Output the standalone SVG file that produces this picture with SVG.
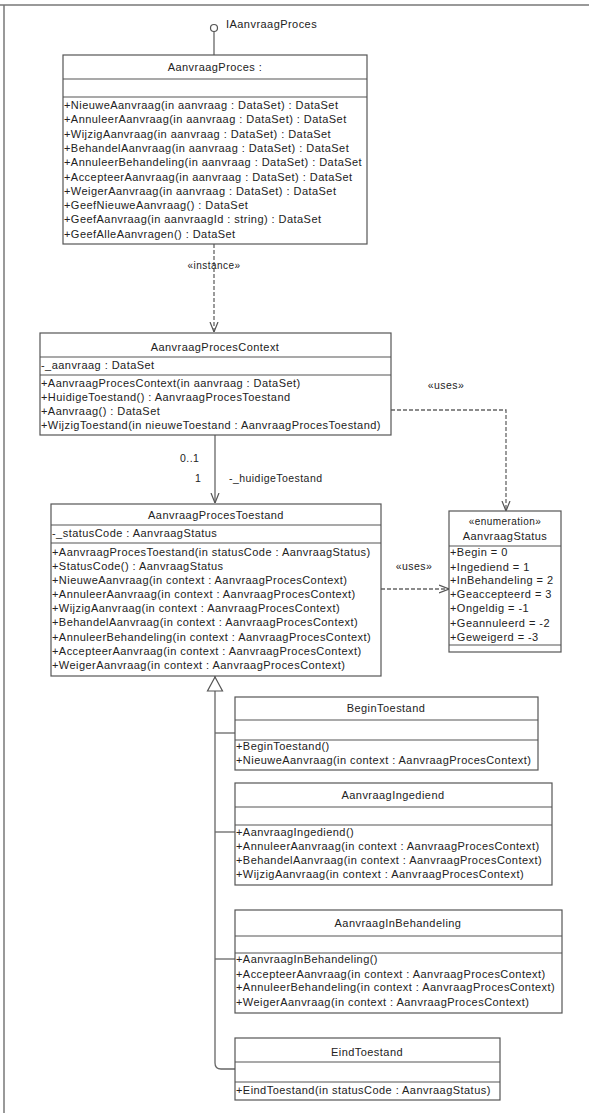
<svg xmlns="http://www.w3.org/2000/svg" width="589" height="1113" viewBox="0 0 589 1113">
<style>
.box{fill:#fff;stroke:#555;stroke-width:1.2}
.sep{stroke:#555;stroke-width:1.2}
.t{font-family:"Liberation Sans",Arial,sans-serif;font-size:11px;fill:#222;letter-spacing:0.45px}
.c{text-anchor:middle}
.ln{fill:none;stroke:#666;stroke-width:1.3}
.dash{fill:none;stroke:#666;stroke-width:1.3;stroke-dasharray:4,2}
.frame{stroke:#777;stroke-width:1.5}
</style>
<defs>
<marker id="open" viewBox="0 0 10 10" refX="10" refY="5" markerWidth="10" markerHeight="10" markerUnits="userSpaceOnUse" orient="auto">
<path d="M0,1 L10,5 L0,9" fill="none" stroke="#555" stroke-width="1.2"/>
</marker>
</defs>
<line class="frame" x1="0" y1="5" x2="589" y2="5"/>
<line class="frame" x1="4" y1="5" x2="4" y2="1113"/>

<g id="connectors">
<line class="ln" x1="214" y1="31" x2="214" y2="55"/>
<circle cx="214" cy="28" r="3.5" fill="#fff" stroke="#555" stroke-width="1.2"/>
<text class="t" x="226" y="28">IAanvraagProces</text>
<line class="dash" x1="214" y1="244" x2="214" y2="332" marker-end="url(#open)"/>
<text class="t c" x="214" y="269" style="font-size:10px">«instance»</text>
<polyline class="dash" points="391,410 506,410 506,511" marker-end="url(#open)"/>
<text class="t c" x="446" y="389" style="font-size:10.5px">«uses»</text>
<line class="ln" x1="215" y1="435" x2="215" y2="503" marker-end="url(#open)"/>
<text class="t" x="180" y="462" style="font-size:10.5px">0..1</text>
<text class="t" x="195" y="482" style="font-size:10.5px">1</text>
<text class="t" x="229" y="482" style="font-size:10.5px">-_huidigeToestand</text>
<line class="dash" x1="381" y1="589" x2="449" y2="589" marker-end="url(#open)"/>
<text class="t c" x="414" y="570" style="font-size:10.5px">«uses»</text>
<path class="ln" d="M215,676 L215,1063 Q215,1069 221,1069 L235,1069" />
<path d="M215,677 L222.5,691 L207.5,691 Z" fill="#fff" stroke="#555" stroke-width="1.2"/>
<line class="ln" x1="215" y1="733" x2="235" y2="733"/>
<line class="ln" x1="215" y1="832" x2="235" y2="832"/>
<line class="ln" x1="215" y1="959" x2="235" y2="959"/>
</g>

<g id="AanvraagProces">
<rect class="box" x="63" y="55" width="304" height="189"/>
<line class="sep" x1="63" y1="79" x2="367" y2="79"/>
<line class="sep" x1="63" y1="97" x2="367" y2="97"/>
<text class="t c" x="215" y="71">AanvraagProces :</text>
<text class="t" x="64" y="109">+NieuweAanvraag(in aanvraag : DataSet) : DataSet</text>
<text class="t" x="64" y="123">+AnnuleerAanvraag(in aanvraag : DataSet) : DataSet</text>
<text class="t" x="64" y="138">+WijzigAanvraag(in aanvraag : DataSet) : DataSet</text>
<text class="t" x="64" y="152">+BehandelAanvraag(in aanvraag : DataSet) : DataSet</text>
<text class="t" x="64" y="166">+AnnuleerBehandeling(in aanvraag : DataSet) : DataSet</text>
<text class="t" x="64" y="181">+AccepteerAanvraag(in aanvraag : DataSet) : DataSet</text>
<text class="t" x="64" y="195">+WeigerAanvraag(in aanvraag : DataSet) : DataSet</text>
<text class="t" x="64" y="209">+GeefNieuweAanvraag() : DataSet</text>
<text class="t" x="64" y="223">+GeefAanvraag(in aanvraagId : string) : DataSet</text>
<text class="t" x="64" y="238">+GeefAlleAanvragen() : DataSet</text>
</g>

<g id="AanvraagProcesContext">
<rect class="box" x="40" y="333" width="351" height="102"/>
<line class="sep" x1="40" y1="357" x2="391" y2="357"/>
<line class="sep" x1="40" y1="375" x2="391" y2="375"/>
<text class="t c" x="215" y="351">AanvraagProcesContext</text>
<text class="t" x="41" y="369">-_aanvraag : DataSet</text>
<text class="t" x="41" y="387">+AanvraagProcesContext(in aanvraag : DataSet)</text>
<text class="t" x="41" y="401">+HuidigeToestand() : AanvraagProcesToestand</text>
<text class="t" x="41" y="415">+Aanvraag() : DataSet</text>
<text class="t" x="41" y="429">+WijzigToestand(in nieuweToestand : AanvraagProcesToestand)</text>
</g>

<g id="AanvraagStatus">
<rect class="box" x="449" y="511" width="112" height="141"/>
<line class="sep" x1="449" y1="546" x2="561" y2="546"/>
<line class="sep" x1="449" y1="645" x2="561" y2="645"/>
<text class="t c" x="505" y="525" style="font-size:10px">«enumeration»</text>
<text class="t c" x="505" y="540">AanvraagStatus</text>
<text class="t" x="450" y="556">+Begin = 0</text>
<text class="t" x="450" y="571">+Ingediend = 1</text>
<text class="t" x="450" y="584">+InBehandeling = 2</text>
<text class="t" x="450" y="598">+Geaccepteerd = 3</text>
<text class="t" x="450" y="612">+Ongeldig = -1</text>
<text class="t" x="450" y="627">+Geannuleerd = -2</text>
<text class="t" x="450" y="641">+Geweigerd = -3</text>
</g>

<g id="AanvraagProcesToestand">
<rect class="box" x="51" y="504" width="330" height="172"/>
<line class="sep" x1="51" y1="525" x2="381" y2="525"/>
<line class="sep" x1="51" y1="543" x2="381" y2="543"/>
<text class="t c" x="216" y="519">AanvraagProcesToestand</text>
<text class="t" x="52" y="537">-_statusCode : AanvraagStatus</text>
<text class="t" x="52" y="556">+AanvraagProcesToestand(in statusCode : AanvraagStatus)</text>
<text class="t" x="52" y="570">+StatusCode() : AanvraagStatus</text>
<text class="t" x="52" y="584">+NieuweAanvraag(in context : AanvraagProcesContext)</text>
<text class="t" x="52" y="598">+AnnuleerAanvraag(in context : AanvraagProcesContext)</text>
<text class="t" x="52" y="612">+WijzigAanvraag(in context : AanvraagProcesContext)</text>
<text class="t" x="52" y="626">+BehandelAanvraag(in context : AanvraagProcesContext)</text>
<text class="t" x="52" y="641">+AnnuleerBehandeling(in context : AanvraagProcesContext)</text>
<text class="t" x="52" y="655">+AccepteerAanvraag(in context : AanvraagProcesContext)</text>
<text class="t" x="52" y="669">+WeigerAanvraag(in context : AanvraagProcesContext)</text>
</g>

<g id="BeginToestand">
<rect class="box" x="235" y="697" width="303" height="73"/>
<line class="sep" x1="235" y1="720" x2="538" y2="720"/>
<line class="sep" x1="235" y1="740" x2="538" y2="740"/>
<text class="t c" x="386" y="712">BeginToestand</text>
<text class="t" x="236" y="750">+BeginToestand()</text>
<text class="t" x="236" y="764">+NieuweAanvraag(in context : AanvraagProcesContext)</text>
</g>

<g id="AanvraagIngediend">
<rect class="box" x="235" y="783" width="317" height="102"/>
<line class="sep" x1="235" y1="807" x2="552" y2="807"/>
<line class="sep" x1="235" y1="825" x2="552" y2="825"/>
<text class="t c" x="393" y="799">AanvraagIngediend</text>
<text class="t" x="236" y="836">+AanvraagIngediend()</text>
<text class="t" x="236" y="850">+AnnuleerAanvraag(in context : AanvraagProcesContext)</text>
<text class="t" x="236" y="864">+BehandelAanvraag(in context : AanvraagProcesContext)</text>
<text class="t" x="236" y="878">+WijzigAanvraag(in context : AanvraagProcesContext)</text>
</g>

<g id="AanvraagInBehandeling">
<rect class="box" x="235" y="910" width="327" height="103"/>
<line class="sep" x1="235" y1="936" x2="562" y2="936"/>
<line class="sep" x1="235" y1="953" x2="562" y2="953"/>
<text class="t c" x="398" y="927">AanvraagInBehandeling</text>
<text class="t" x="236" y="963">+AanvraagInBehandeling()</text>
<text class="t" x="236" y="978">+AccepteerAanvraag(in context : AanvraagProcesContext)</text>
<text class="t" x="236" y="991">+AnnuleerBehandeling(in context : AanvraagProcesContext)</text>
<text class="t" x="236" y="1006">+WeigerAanvraag(in context : AanvraagProcesContext)</text>
</g>

<g id="EindToestand">
<rect class="box" x="235" y="1038" width="265" height="62"/>
<line class="sep" x1="235" y1="1062" x2="500" y2="1062"/>
<line class="sep" x1="235" y1="1082" x2="500" y2="1082"/>
<text class="t c" x="367" y="1056">EindToestand</text>
<text class="t" x="236" y="1094">+EindToestand(in statusCode : AanvraagStatus)</text>
</g>
</svg>
